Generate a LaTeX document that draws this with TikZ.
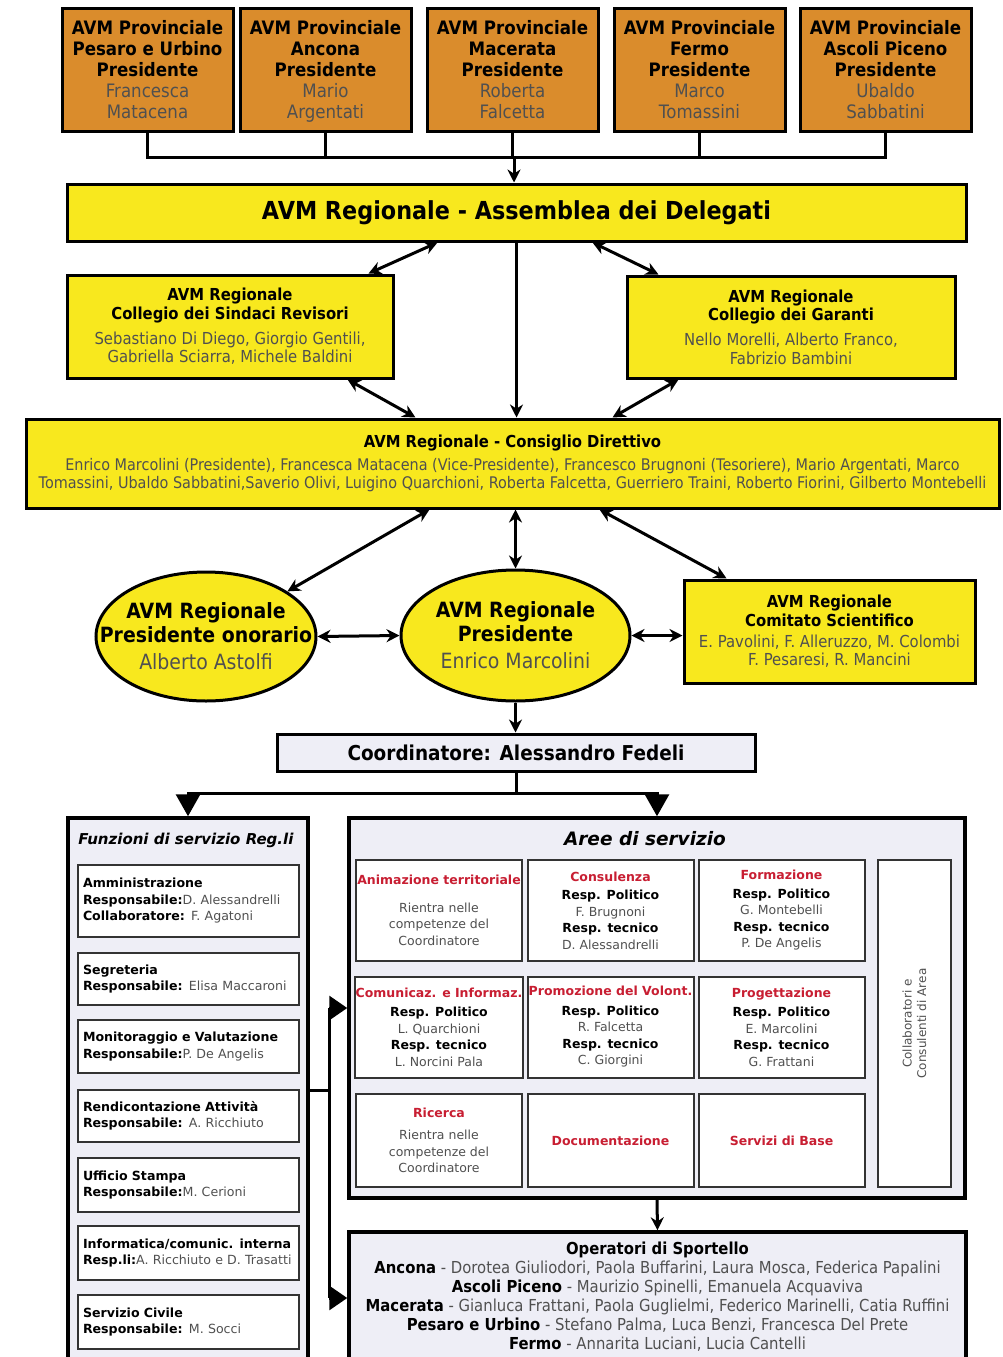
\documentclass[tikz,border=0pt]{standalone}
\usepackage{fontspec}
\setmainfont{DejaVu Sans}
\newfontfamily\condfont[FakeStretch=0.9]{DejaVu Sans}
\usepackage{tikz}
\usetikzlibrary{shapes}
\usetikzlibrary{positioning}
\usetikzlibrary{arrows.meta}
\usetikzlibrary{calc}
\definecolor{provorange}{RGB}{218,140,44}
\definecolor{avmyellow}{RGB}{248,232,30}
\definecolor{avmlilac}{RGB}{238,238,246}
\definecolor{avmred}{RGB}{200,30,50}
\definecolor{avmgray}{RGB}{80,80,80}
\newcommand{\avmname}[1]{{\mdseries\color{avmgray}#1}}
\newcommand{\avmtitle}[1]{{\bfseries\color{avmred}#1}}
\tikzset{
    mynodeo/.style = {rectangle, line width=3pt, draw=black, fill=provorange, minimum width=171pt, minimum height=123pt, inner sep=0pt},
    mynodeot/.style = {align=center, inner sep=0pt, font=\condfont\bfseries\fontsize{18.5}{21}\selectfont},
    mynodey/.style = {rectangle, line width=3pt, draw=black, align=center, fill=avmyellow, inner sep=1pt, font=\condfont\fontsize{16.5}{18.7}\selectfont},
    mynodee/.style = {ellipse, line width=3pt, draw=black, fill=avmyellow, inner sep=0pt},
    mynodet/.style = {align=center, inner sep=0pt, font=\condfont\fontsize{21}{24}\selectfont},
    mynodel/.style = {rectangle, line width=3.5pt, draw=black, fill=avmlilac, inner sep=0pt},
    mynodew/.style = {rectangle, line width=2pt, draw=black!80, fill=white, inner sep=1pt, align=center, font=\fontsize{12.5}{16.5}\selectfont},
    mynodef/.style = {mynodew, align=left, text width=211pt, inner xsep=5pt, font=\fontsize{12.6}{16.5}\selectfont},
    edgen/.style = {-, line width=3pt, black},
    edgea/.style = {-{Stealth[length=13pt,width=13pt]}, line width=3pt, black},
    edged/.style = {{Stealth[length=13pt,width=13pt]}-{Stealth[length=13pt,width=13pt]}, line width=3pt, black},
    edget/.style = {-{Triangle[length=22pt,width=24pt]}, line width=3pt, black},
    edgets/.style = {-{Triangle[length=18pt,width=24pt]}, line width=3pt, black}
}

\begin{document}
\begin{tikzpicture}[x=1pt,y=-1pt,font=\condfont]
\useasboundingbox (0,0) rectangle (1003,1357);
\clip (0,0) rectangle (1003,1357);
% provinciali
\node[mynodeo] at (147.5,69.5) (p1) {};
\node[mynodeot, below=14pt of p1.north] (p1txt) {AVM Provinciale\\Pesaro e Urbino\\Presidente\\\avmname{Francesca}\\\avmname{Matacena}};
\node[mynodeo] at (325.5,69.5) (p2) {};
\node[mynodeot, below=14pt of p2.north] (p2txt) {AVM Provinciale\\Ancona\\Presidente\\\avmname{Mario}\\\avmname{Argentati}};
\node[mynodeo] at (512.5,69.5) (p3) {};
\node[mynodeot, below=14pt of p3.north] (p3txt) {AVM Provinciale\\Macerata\\Presidente\\\avmname{Roberta}\\\avmname{Falcetta}};
\node[mynodeo] at (699.5,69.5) (p4) {};
\node[mynodeot, below=14pt of p4.north] (p4txt) {AVM Provinciale\\Fermo\\Presidente\\\avmname{Marco}\\\avmname{Tomassini}};
\node[mynodeo] at (885.5,69.5) (p5) {};
\node[mynodeot, below=14pt of p5.north] (p5txt) {AVM Provinciale\\Ascoli Piceno\\Presidente\\\avmname{Ubaldo}\\\avmname{Sabbatini}};
\coordinate (junc) at (514,157);
%
\node[mynodey, minimum width=899pt, minimum height=57pt, font=\condfont\bfseries\fontsize{24.8}{28}\selectfont] at (516.5,212.5) (assem) {AVM Regionale - Assemblea dei Delegati};
\node[mynodey, minimum width=326pt, minimum height=103pt] at (230,326.5) (sind) {\textbf{AVM Regionale}\\\textbf{Collegio dei Sindaci Revisori}\\[6pt]\avmname{Sebastiano Di Diego, Giorgio Gentili,}\\\avmname{Gabriella Sciarra, Michele Baldini}};
\node[mynodey, minimum width=328pt, minimum height=102pt] at (791,327) (gar) {\textbf{AVM Regionale}\\\textbf{Collegio dei Garanti}\\[6pt]\avmname{Nello Morelli, Alberto Franco,}\\\avmname{Fabrizio Bambini}};
\node[mynodey, minimum width=973pt, minimum height=89pt, font=\condfont\fontsize{16}{18}\selectfont] at (512.5,463.5) (cons) {\textbf{\fontsize{16.5}{18}\selectfont AVM Regionale - Consiglio Direttivo}\\[5pt]\avmname{Enrico Marcolini (Presidente), Francesca Matacena (Vice-Presidente), Francesco Brugnoni (Tesoriere), Mario Argentati, Marco}\\\avmname{Tomassini, Ubaldo Sabbatini,Saverio Olivi, Luigino Quarchioni, Roberta Falcetta, Guerriero Traini, Roberto Fiorini, Gilberto Montebelli}};
%
\node[mynodee, minimum width=220pt, minimum height=129pt] at (206,636.5) (onor) {};
\node[mynodet] at (onor.center) (onortxt) {\textbf{AVM Regionale}\\\textbf{Presidente onorario}\\[3pt]\avmname{Alberto Astolfi}};
\node[mynodee, minimum width=229pt, minimum height=131pt] at (515.5,635.5) (pres) {};
\node[mynodet] at (pres.center) (prestxt) {\textbf{AVM Regionale}\\\textbf{Presidente}\\[3pt]\avmname{Enrico Marcolini}};
\node[mynodey, minimum width=291pt, minimum height=103pt] at (829.5,631.5) (com) {\textbf{AVM Regionale}\\\textbf{Comitato Scientifico}\\[2pt]\avmname{E. Pavolini, F. Alleruzzo, M. Colombi}\\\avmname{F. Pesaresi, R. Mancini}};
\node[mynodel, line width=3pt, minimum width=478pt, minimum height=37pt, font=\condfont\bfseries\fontsize{20.5}{24}\selectfont] at (516,752.5) (coord) {Coordinatore: Alessandro Fedeli};
\coordinate (split) at (516,793);
%
\node[mynodel, minimum width=240pt, minimum height=582pt] at (188,1109) (funz) {};
\node[below right=17pt and 12pt of funz.north west, inner sep=0pt, font=\bfseries\itshape\fontsize{15}{17}\selectfont] (funztxt) {Funzioni di servizio Reg.li};
\node[mynodef, minimum height=72pt] at (188.5,901) (f1) {\textbf{Amministrazione}\\\textbf{Responsabile:}\avmname{D. Alessandrelli}\\\textbf{Collaboratore:} \avmname{F. Agatoni}};
\node[mynodef, minimum height=52pt] at (188.5,979) (f2) {\textbf{Segreteria}\\\textbf{Responsabile:} \avmname{Elisa Maccaroni}};
\node[mynodef, minimum height=53pt] at (188.5,1046.5) (f3) {\textbf{Monitoraggio e Valutazione}\\\textbf{Responsabile:}\avmname{P. De Angelis}};
\node[mynodef, minimum height=52pt] at (188.5,1116) (f4) {\textbf{Rendicontazione Attività}\\\textbf{Responsabile:} \avmname{A. Ricchiuto}};
\node[mynodef, minimum height=54pt] at (188.5,1185) (f5) {\textbf{Ufficio Stampa}\\\textbf{Responsabile:}\avmname{M. Cerioni}};
\node[mynodef, minimum height=54pt] at (188.5,1253) (f6) {\textbf{Informatica/comunic. interna}\\\textbf{Resp.li:}\avmname{A. Ricchiuto e D. Trasatti}};
\node[mynodef, minimum height=54pt] at (188.5,1322) (f7) {\textbf{Servizio Civile}\\\textbf{Responsabile:} \avmname{M. Socci}};
%
\node[mynodel, minimum width=616pt, minimum height=380pt] at (657,1008) (aree) {};
\node[below=15pt of aree.north, xshift=-12pt, inner sep=0pt, font=\bfseries\itshape\fontsize{18.5}{22}\selectfont] (areetxt) {Aree di servizio};
\node[mynodew, minimum width=166pt, minimum height=101pt] at (439,910.5) (c11) {\avmtitle{Animazione territoriale}\\[11pt]\avmname{Rientra nelle}\\\avmname{competenze del}\\\avmname{Coordinatore}};
\node[mynodew, minimum width=166pt, minimum height=101pt] at (610.5,910.5) (c12) {\avmtitle{Consulenza}\\[2pt]\textbf{Resp. Politico}\\\avmname{F. Brugnoni}\\\textbf{Resp. tecnico}\\\avmname{D. Alessandrelli}};
\node[mynodew, minimum width=166pt, minimum height=101pt] at (781.5,910.5) (c13) {\avmtitle{Formazione}\\[2pt]\textbf{Resp. Politico}\\\avmname{G. Montebelli}\\\textbf{Resp. tecnico}\\\avmname{P. De Angelis}};
\node[mynodew, minimum width=166pt, minimum height=101pt] at (439,1027) (c21) {\avmtitle{Comunicaz. e Informaz.}\\[3pt]\textbf{Resp. Politico}\\\avmname{L. Quarchioni}\\\textbf{Resp. tecnico}\\\avmname{L. Norcini Pala}};
\node[mynodew, minimum width=166pt, minimum height=101pt] at (610.5,1027) (c22) {\avmtitle{Promozione del Volont.}\\[3pt]\textbf{Resp. Politico}\\\avmname{R. Falcetta}\\\textbf{Resp. tecnico}\\\avmname{C. Giorgini}};
\node[mynodew, minimum width=166pt, minimum height=101pt] at (781.5,1027) (c23) {\avmtitle{Progettazione}\\[3pt]\textbf{Resp. Politico}\\\avmname{E. Marcolini}\\\textbf{Resp. tecnico}\\\avmname{G. Frattani}};
\node[mynodew, minimum width=166pt, minimum height=93pt] at (439,1140.5) (c31) {\avmtitle{Ricerca}\\[6pt]\avmname{Rientra nelle}\\\avmname{competenze del}\\\avmname{Coordinatore}};
\node[mynodew, minimum width=166pt, minimum height=93pt] at (610.5,1140.5) (c32) {\avmtitle{Documentazione}};
\node[mynodew, minimum width=166pt, minimum height=93pt] at (781.5,1140.5) (c33) {\avmtitle{Servizi di Base}};
\node[mynodew, minimum width=73pt, minimum height=327pt] at (914.5,1023.5) (collab) {};
\node[rotate=90, align=center, inner sep=0pt, font=\fontsize{12}{14.5}\selectfont] at (collab.center) (collabtxt) {\avmname{Collaboratori e}\\\avmname{Consulenti di Area}};
%
\node[mynodel, minimum width=617pt, minimum height=168pt] at (657.5,1316) (oper) {};
\node[below=11pt of oper.north, align=center, inner sep=0pt, font=\condfont\fontsize{16.5}{19}\selectfont] (opertxt) {\textbf{Operatori di Sportello}\\\textbf{Ancona} \avmname{- Dorotea Giuliodori, Paola Buffarini, Laura Mosca, Federica Papalini}\\\textbf{Ascoli Piceno} \avmname{- Maurizio Spinelli, Emanuela Acquaviva}\\\textbf{Macerata} \avmname{- Gianluca Frattani, Paola Guglielmi, Federico Marinelli, Catia Ruffini}\\\textbf{Pesaro e Urbino} \avmname{- Stefano Palma, Luca Benzi, Francesca Del Prete}\\\textbf{Fermo} \avmname{- Annarita Luciani, Lucia Cantelli}};
\coordinate (bus) at (329,1090);
\coordinate (bustop) at (329,1008);
\coordinate (busbot) at (329,1298);
%
\draw[edgen] (p1.south) |- (junc) -| (p5.south);
\draw[edgen] (p2.south) -- (p2.south |- junc);
\draw[edgen] (p3.south) -- (p3.south |- junc);
\draw[edgen] (p4.south) -- (p4.south |- junc);
\draw[edgea] (junc) -- (junc |- assem.north);
\draw[edged] ($(assem.south)+(-79,0)$) -- ($(sind.north east)+(-26,0)$);
\draw[edged] ($(assem.south)+(76,0)$) -- ($(gar.north west)+(33,0)$);
\draw[edgea] (assem.south) -- (assem.south |- cons.north);
\draw[edged] ($(sind.south east)+(-47,0)$) -- ($(cons.north)+(-97,0)$);
\draw[edged] ($(gar.south west)+(53,0)$) -- ($(cons.north)+(100,0)$);
\draw[edged] ($(cons.south)+(-83,0)$) -- (onor.29);
\draw[edged] (cons.south -| pres.north) -- (pres.north);
\draw[edged] ($(cons.south)+(87,0)$) -- ($(com.north west)!0.15!(com.north east)$);
\draw[edged] (onor.east) -- (pres.west);
\draw[edged] (pres.east) -- (com.west |- pres.east);
\draw[edgea] (pres.south) -- (pres.south |- coord.north);
\draw[edgen] (coord.south) -- (split);
\draw[edget] (split) -| (funz.north);
\draw[edget] (split) -| (aree.north);
\draw[edgea] (aree.south) -- (oper.north);
\draw[edgen] (funz.east |- bus) -- (bus);
\draw[edgen] (bustop) -- (busbot);
\draw[edgets] (bustop) -- (aree.west |- bustop);
\draw[edgets] (busbot) -- (oper.west |- busbot);
\end{tikzpicture}
\end{document}
